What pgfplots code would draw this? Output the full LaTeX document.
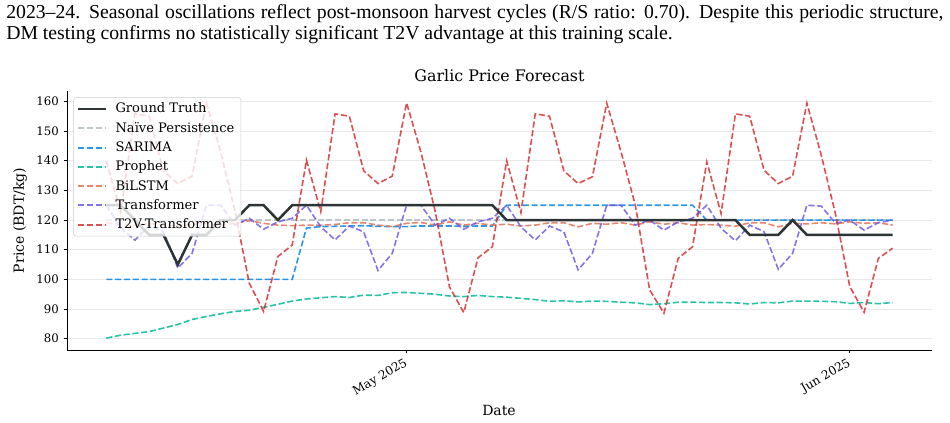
\documentclass[border=0pt]{standalone}
\usepackage{fontspec}
\setmainfont{DejaVu Serif}
\newfontfamily\capfont{Liberation Serif}
\usepackage{pgfplots}
\pgfplotsset{compat=1.18}
\usepackage{pgfplotstable}

\definecolor{cgt}{HTML}{2D3436}
\definecolor{cnaive}{HTML}{B2BEC3}
\definecolor{csarima}{HTML}{0984E3}
\definecolor{cprophet}{HTML}{00B894}
\definecolor{cbilstm}{HTML}{E17055}
\definecolor{ctransf}{HTML}{6C5CE7}
\definecolor{ct2v}{HTML}{D63031}
\tikzset{dstyle/.style={dash pattern=on 4.6pt off 2pt, draw opacity=0.85, line width=1.2pt}}

% d = days relative to 1 May 2025
\pgfplotstableread{
d gt naive sarima prophet bilstm transf t2v
-21 125 120 100 80.2 119.0 125 140
-20 125 120 100 81.2 118.5 117.4 122.5
-19 120 120 100 81.8 118.2 113.2 155.8
-18 115 120 100 82.4 118.8 118.2 155
-17 115 120 100 83.6 118.4 116.1 136.6
-16 105 120 100 84.8 118.0 103.8 132.3
-15 115 120 100 86.5 118.6 108.8 134.8
-14 115 120 100 87.5 118.9 125 159.5
-13 120 120 100 88.4 118.3 125 143
-12 120 120 100 89.2 118.9 118.3 123
-11 125 120 100 89.6 119.8 120.6 98.7
-10 125 120 100 90.6 118.9 116.9 89.2
-9 120 120 100 91.6 118.3 119.4 107.7
-8 125 120 100 92.7 118.1 120.6 111.6
-7 125 120 117.3 93.4 118.3 125 140.2
-6 125 120 117.8 93.8 118.3 117.7 122.8
-5 125 120 117.9 94.2 118.5 113.3 155.8
-4 125 120 118.0 93.9 119.1 118.0 155
-3 125 120 118.1 94.7 119.1 116.0 136.6
-2 125 120 117.9 94.6 118.3 103.0 132.3
-1 125 120 117.8 95.5 117.8 108.8 134.8
0 125 120 117.8 95.6 118.9 125 159.5
1 125 120 118.0 95.3 119.2 125 143
2 125 120 118.0 95.0 118.3 118.3 123
3 125 120 118.0 94.4 119.4 120.6 97.5
4 125 120 117.9 94.2 118.3 116.9 88.8
5 125 120 118.0 94.6 118.9 119.4 107.3
6 125 120 118.0 94.2 118.3 120.6 111
7 120 120 125 94.0 118.6 125 140
8 120 120 125 93.6 118.0 117.7 122.5
9 120 120 125 93.2 118.3 113.3 155.8
10 120 120 125 92.6 119.1 118.0 155
11 120 120 125 92.8 119.1 116.0 136.6
12 120 120 125 92.4 117.7 103.2 132.3
13 120 120 125 92.7 118.9 108.8 134.6
14 120 120 125 92.6 118.6 125 159.4
15 120 120 125 92.3 119.1 125 143
16 120 120 125 92.1 118.3 118.3 125
17 120 120 125 91.5 119.4 120.0 96.5
18 120 120 125 91.8 118.6 116.6 88.6
19 120 120 125 92.3 119.1 119.4 107.1
20 120 120 125 92.3 118.3 120.6 111
21 120 120 120 92.2 118.5 125 139.6
22 120 120 120 92.2 118.3 117.2 122.2
23 120 120 120 92.1 117.9 113.0 155.8
24 115 120 120 91.7 119.1 118.3 155
25 115 120 120 92.2 119.1 116.1 136.8
26 115 120 120 92.1 117.7 103.4 132.3
27 120 120 120 92.7 118.9 108.8 134.8
28 115 120 120 92.7 118.7 125 159.4
29 115 120 120 92.6 119.1 124.7 142
30 115 120 120 92.5 118.7 118.9 122
31 115 120 120 91.9 119.4 120.0 97.6
32 115 120 120 92.2 118.9 116.6 88.9
33 115 120 120 91.8 119.1 119.1 107.1
34 115 120 120 92.2 118.3 120.0 110.5
}\garlic

\begin{document}
\begin{tikzpicture}
\useasboundingbox (0,0) rectangle (712.5pt,316.5pt);
\node[anchor=base west, inner sep=0pt] at (4.5pt,302.3pt)
  {\capfont\fontsize{14.8}{17}\selectfont\makebox[703pt][s]{2023–24. Seasonal oscillations reflect post-monsoon harvest cycles (R/S ratio: 0.70). Despite this periodic structure,}};
\node[anchor=base west, inner sep=0pt] at (4.5pt,286.5pt)
  {\capfont\fontsize{14.8}{17}\selectfont DM testing confirms no statistically significant T2V advantage at this training scale.};

\begin{axis}[
  at={(50.25pt,54pt)}, anchor=south west,
  scale only axis, width=648.75pt, height=194.25pt,
  xmin=-23.75, xmax=36.75, ymin=76.2, ymax=163.5,
  axis x line*=bottom, axis y line*=left,
  axis line style={black, line width=0.7pt},
  tick align=outside, major tick length=2.6pt,
  tick style={black, line width=0.6pt},
  ytick={80,90,...,160},
  xtick={0,31}, xticklabels={May 2025,Jun 2025},
  xticklabel style={rotate=30, anchor=north east, font=\fontsize{9}{10}\selectfont, yshift=2pt},
  yticklabel style={font=\fontsize{8.8}{10}\selectfont},
  /pgf/number format/assume math mode=true,
  ymajorgrids, grid style={color=black!9, line width=0.8pt},
  legend style={at={(axis description cs:0,1)}, anchor=north west, xshift=4.7pt, yshift=-4.7pt,
    fill=white, fill opacity=0.8, draw opacity=1, text opacity=1, draw=black!20, rounded corners=2pt,
    font=\fontsize{9.8}{11}\selectfont, row sep=1.6pt, inner xsep=2.8pt, inner ysep=2pt},
  legend cell align=left,
  legend image code/.code={\draw[#1, line width=1.5pt] (0pt,0pt) -- (21pt,0pt); \path (25pt,0pt);},
]
\addlegendimage{cgt, line width=1.9pt}
\addlegendentry{Ground Truth}
\addplot[cnaive, dstyle] table[x=d, y=naive] {\garlic};
\addlegendentry{Naïve Persistence}
\addplot[csarima, dstyle] table[x=d, y=sarima] {\garlic};
\addlegendentry{SARIMA}
\addplot[cprophet, dstyle] table[x=d, y=prophet] {\garlic};
\addlegendentry{Prophet}
\addplot[cbilstm, dstyle] table[x=d, y=bilstm] {\garlic};
\addlegendentry{BiLSTM}
\addplot[ctransf, dstyle] table[x=d, y=transf] {\garlic};
\addlegendentry{Transformer}
\addplot[ct2v, dstyle] table[x=d, y=t2v] {\garlic};
\addlegendentry{T2V-Transformer\hspace{2pt}}
\addplot[cgt, line width=1.9pt, forget plot] table[x=d, y=gt] {\garlic};
\end{axis}

\node[anchor=base, font=\fontsize{11.9}{14}\selectfont] at (374.6pt,255pt) {Garlic Price Forecast};
\node[rotate=90, font=\fontsize{10.5}{12}\selectfont] at (15pt,151.1pt) {Price (BDT/kg)};
\node[font=\fontsize{10.5}{12}\selectfont] at (374.25pt,9pt) {Date};
\end{tikzpicture}
\end{document}
